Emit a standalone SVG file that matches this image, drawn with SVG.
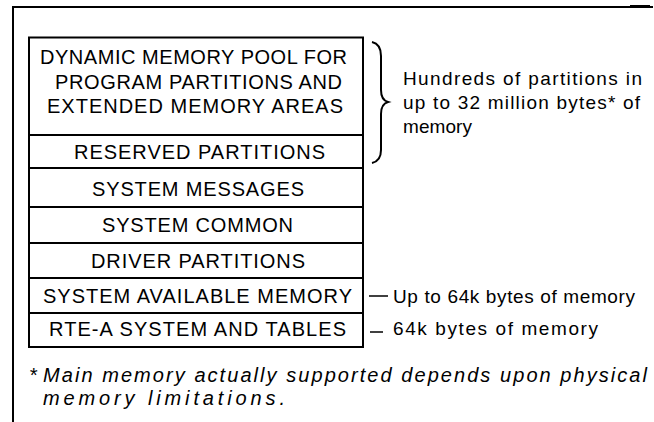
<svg xmlns="http://www.w3.org/2000/svg" width="654" height="422" viewBox="0 0 654 422">
<style>
.frame{stroke:#000;stroke-width:2;fill:none}
.box{stroke:#000;stroke-width:2;fill:#fff}
.bt{font-family:"Liberation Sans",Arial,sans-serif;font-size:20px;fill:#000}
.rt{font-family:"Liberation Sans",Arial,sans-serif;font-size:19px;fill:#000}
.fn{font-family:"Liberation Sans",Arial,sans-serif;font-size:20px;font-style:italic;fill:#000}
.ln{stroke:#000;stroke-width:1.5;fill:none}
</style>
<rect width="654" height="422" fill="#fff"/>
<g id="frame">
<path class="frame" d="M13 422 V7 H653"/>
<path d="M630 6.5 H650" stroke="#000" stroke-width="3"/>
</g>
<g id="dynamic">
<rect class="box" x="29" y="37.5" width="334" height="97.5"/>
<text class="bt" x="40" y="64" textLength="307" lengthAdjust="spacing">DYNAMIC MEMORY POOL FOR</text>
<text class="bt" x="55" y="89" textLength="287" lengthAdjust="spacing">PROGRAM PARTITIONS AND</text>
<text class="bt" x="47" y="113" textLength="296" lengthAdjust="spacing">EXTENDED MEMORY AREAS</text>
</g>
<g id="reserved">
<rect class="box" x="29" y="135" width="334" height="33"/>
<text class="bt" x="74" y="159" textLength="251" lengthAdjust="spacing">RESERVED PARTITIONS</text>
</g>
<g id="messages">
<rect class="box" x="29" y="168" width="334" height="39"/>
<text class="bt" x="92" y="196" textLength="212" lengthAdjust="spacing">SYSTEM MESSAGES</text>
</g>
<g id="common">
<rect class="box" x="29" y="207" width="334" height="36"/>
<text class="bt" x="102" y="232" textLength="191" lengthAdjust="spacing">SYSTEM COMMON</text>
</g>
<g id="driver">
<rect class="box" x="29" y="243" width="334" height="35"/>
<text class="bt" x="91" y="268" textLength="214" lengthAdjust="spacing">DRIVER PARTITIONS</text>
</g>
<g id="available">
<rect class="box" x="29" y="278" width="334" height="35"/>
<text class="bt" x="43" y="303" textLength="309" lengthAdjust="spacing">SYSTEM AVAILABLE MEMORY</text>
</g>
<g id="rte">
<rect class="box" x="29" y="313" width="334" height="34"/>
<text class="bt" x="49" y="336" textLength="297" lengthAdjust="spacing">RTE-A SYSTEM AND TABLES</text>
</g>
<g id="connectors">
<path class="frame" d="M372 42 Q381 44 381 56 L381 90 Q381 100 388 102 Q381 104 381 114 L381 150 Q381 161 372 163"/>
<path class="ln" d="M369 296 H388"/>
<path class="ln" d="M370 332 H383"/>
</g>
<g id="annotations">
<text class="rt" x="403" y="85" textLength="239" lengthAdjust="spacing">Hundreds of partitions in</text>
<text class="rt" x="403" y="109" textLength="237" lengthAdjust="spacing">up to 32 million bytes* of</text>
<text class="rt" x="403" y="133" textLength="69" lengthAdjust="spacing">memory</text>
<text class="rt" x="393" y="303" textLength="242" lengthAdjust="spacing">Up to 64k bytes of memory</text>
<text class="rt" x="393" y="335" textLength="205" lengthAdjust="spacing">64k bytes of memory</text>
</g>
<g id="footnote">
<text class="fn" x="29" y="382">*</text>
<text class="fn" x="43" y="382" textLength="604" lengthAdjust="spacing">Main memory actually supported depends upon physical</text>
<text class="fn" x="43" y="405" textLength="242" lengthAdjust="spacing">memory limitations.</text>
</g>
</svg>
